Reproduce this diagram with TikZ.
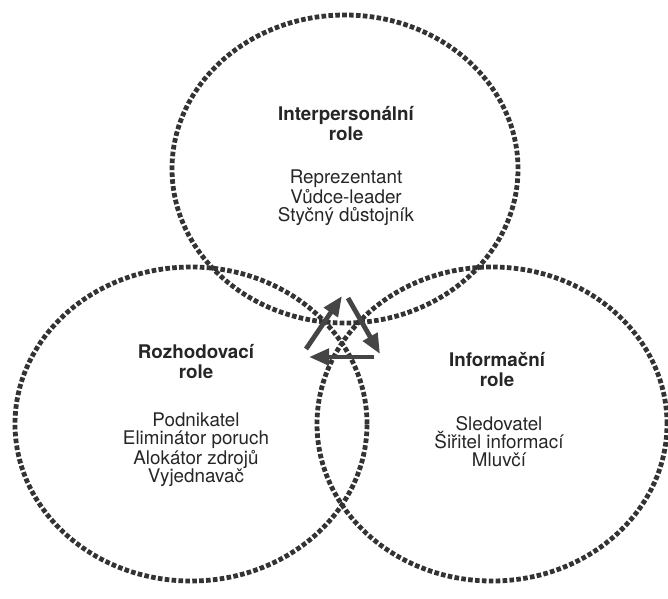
\documentclass[tikz,border=0pt]{standalone}
\usepackage{fontspec}
\setmainfont{TeX Gyre Heros}
\usetikzlibrary{shapes.geometric,arrows.meta}
\definecolor{dotcol}{HTML}{333333}
\definecolor{arrcol}{HTML}{454545}
\definecolor{txtcol}{HTML}{262626}
\tikzset{
  roleellipse/.style={ellipse, draw=dotcol, line width=4.8pt, dash pattern=on 4.6pt off 2.3pt, inner sep=0pt},
  titletext/.style={anchor=north, inner sep=0pt, align=center, text=txtcol, font=\fontsize{18.8}{20}\selectfont\bfseries},
  listtext/.style={anchor=north, inner sep=0pt, align=center, text=txtcol, font=\fontsize{18.8}{18}\selectfont},
  cyclearrow/.style={draw=arrcol, line width=4.8pt, -{Triangle[length=20pt,width=16pt]}}
}
\begin{document}
\begin{tikzpicture}[x=1pt,y=-1pt]
\useasboundingbox (0,0) rectangle (668,598);
\fill[white] (0,0) rectangle (668,598);
% ellipses
\node[roleellipse, minimum width=346pt, minimum height=308pt] (inter) at (345,169) {};
\node[roleellipse, minimum width=352pt, minimum height=314pt] (rozh) at (191,424) {};
\node[roleellipse, minimum width=350pt, minimum height=314pt] (info) at (492,424) {};
% texts
\node[titletext] (intertitle) at (346,106) {Interpersonální\\role};
\node[listtext] (interlist) at (346,170) {Reprezentant\\Vůdce-leader\\Styčný důstojník};
\node[titletext] (rozhtitle) at (196,344) {Rozhodovací\\role};
\node[listtext] (rozhlist) at (196,413) {Podnikatel\\Eliminátor poruch\\Alokátor zdrojů\\Vyjednavač};
\node[titletext] (infotitle) at (497,352) {Informační\\role};
\node[listtext] (infolist) at (499,416) {Sledovatel\\Šiřitel informací\\Mluvčí};
% cycle arrows
\coordinate (a1s) at (306,349);
\coordinate (a1e) at (342,296);
\coordinate (a2s) at (348,298);
\coordinate (a2e) at (380,354);
\coordinate (a3s) at (374,357);
\coordinate (a3e) at (309,357);
\draw[cyclearrow] (a1s) -- (a1e);
\draw[cyclearrow] (a2s) -- (a2e);
\draw[cyclearrow] (a3s) -- (a3e);
\end{tikzpicture}
\end{document}
